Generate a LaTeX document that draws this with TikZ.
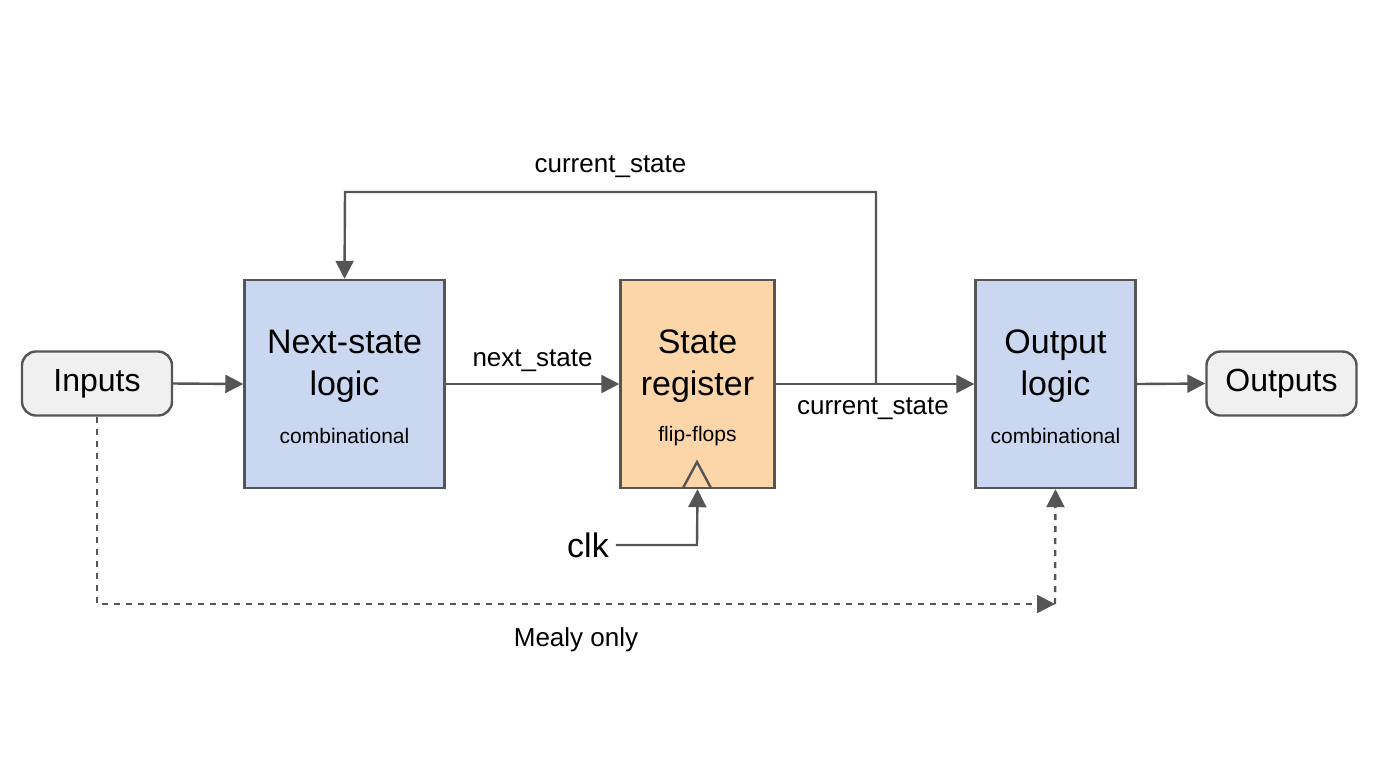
\documentclass[tikz,border=0pt]{standalone}
\usepackage{fontspec}
\setmainfont{Liberation Sans}
\usetikzlibrary{arrows.meta}
\definecolor{bluef}{HTML}{C9D8F0}
\definecolor{orangef}{HTML}{FCD5A8}
\definecolor{grayf}{HTML}{F0F0F0}
\definecolor{edge}{HTML}{555555}
\begin{document}
\begin{tikzpicture}[x=0.5pt,y=-0.5pt,
  blk/.style={draw=edge,line width=1.2pt,minimum width=100pt,minimum height=104pt,align=center,inner sep=0pt},
  io/.style={draw=edge,line width=1.2pt,fill=grayf,rounded corners=7pt,minimum width=75pt,minimum height=32pt,font=\fontsize{16}{18}\selectfont},
  conn/.style={draw=edge,line width=1.2pt,-{Triangle[length=9pt,width=9pt]}},
  lbl/.style={font=\fontsize{13}{15}\selectfont,text=black}]
\useasboundingbox (0,0) rectangle (1376,768);
\node[io] (in) at (97,383.5) {Inputs};
\node[io] (out) at (1281.5,383.5) {Outputs};
\node[blk,fill=bluef] (ns) at (344.5,384) {};
\node[blk,fill=orangef,minimum width=77pt] (sr) at (697.5,384) {};
\node[blk,fill=bluef,minimum width=80pt] (ol) at (1055.5,384) {};
\node[font=\fontsize{17}{21}\selectfont,align=center] at (344.5,366) {Next-state\\logic};
\node[font=\fontsize{10.5}{12}\selectfont] at (344.5,436) {combinational};
\node[font=\fontsize{17}{21}\selectfont,align=center] at (697.5,366) {State\\register};
\node[font=\fontsize{10.5}{12}\selectfont] at (697.5,436) {flip-flops};
\node[font=\fontsize{17}{21}\selectfont,align=center] at (1055.5,366) {Output\\logic};
\node[font=\fontsize{10.5}{12}\selectfont] at (1055.5,436) {combinational};
\draw[draw=edge,line width=1.2pt] (683,488) -- (697,462) -- (711,488);
\draw[conn] (in.east) -- (ns.west);
\draw[conn] (ns.east) -- node[lbl,above=2pt]{next\_state} (sr.west);
\draw[conn] (sr.east) -- (ol.west);
\draw[conn] (ol.east) -- (out.west);
\coordinate (fb) at (876,383);
\draw[conn] (fb) -- (876,192) -- node[lbl,above=3pt]{current\_state} (345,192) -- (ns.north);
\node[lbl] at (873,409) {current\_state};
\node[font=\fontsize{17}{20}\selectfont] (clk) at (588,545) {clk};
\draw[conn] (clk.east) -- (697,545) -- (sr.south);
\coordinate (m) at (1055,604);
\draw[conn,dashed] (in.south) -- (97,604) -- node[lbl,below=8pt]{Mealy only} (m);
\draw[conn,dashed] (m) -- (ol.south);
\end{tikzpicture}
\end{document}
